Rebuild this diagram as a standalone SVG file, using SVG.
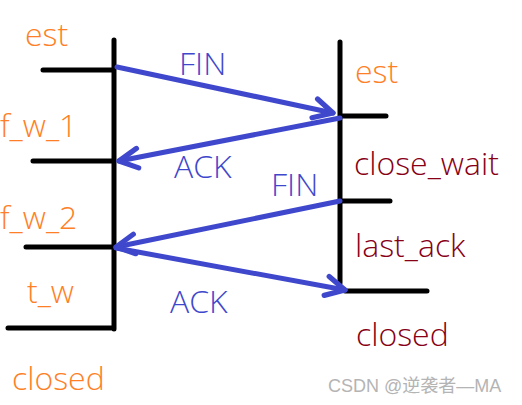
<svg xmlns="http://www.w3.org/2000/svg" width="522" height="405" viewBox="0 0 522 405">
<style>
.t{font-family:"Open Sans","Liberation Sans",sans-serif;font-size:32px;font-weight:300}
.o{fill:#FF7F27}
.r{fill:#880015}
.b{fill:#3F48CC}
.k{stroke:#000;stroke-width:5;stroke-linecap:round;fill:none}
.a{stroke:#3F48CC;stroke-width:5;stroke-linecap:round;fill:none;marker-end:url(#h)}
.w{font-family:"Liberation Sans","Noto Sans CJK SC",sans-serif;font-size:18px;fill:#b4b4b4}
</style>
<defs>
<marker id="h" markerUnits="userSpaceOnUse" markerWidth="30" markerHeight="30" refX="0" refY="0" viewBox="-16 -10 20 20" orient="auto" overflow="visible">
<path d="M-12,-7 L0,0 L-13,6" stroke="#3F48CC" stroke-width="3.5" stroke-linecap="round" stroke-linejoin="round" fill="none"/>
</marker>
</defs>
<rect width="522" height="405" fill="#fff"/>
<g id="client">
<path class="k" d="M114,40 V329 M43,70 H114 M33,161 H114 M26,247 H114 M8,328 H114"/>
</g>
<g id="server">
<path class="k" d="M340,42 V283 M340,116 H386 M340,201 H390 M345,291 H427"/>
</g>
<g id="client-states">
<text id="c-est" class="t o" x="25" y="46">est</text>
<text id="c-fw1" class="t o" x="0" y="137">f_w_1</text>
<text id="c-fw2" class="t o" x="0" y="229">f_w_2</text>
<text id="c-tw" class="t o" x="27" y="303">t_w</text>
<text id="c-closed" class="t o" x="12" y="390">closed</text>
</g>
<g id="server-states">
<text id="s-est" class="t o" x="355" y="83">est</text>
<text id="s-cw" class="t r" x="354" y="175">close_wait</text>
<text id="s-la" class="t r" x="355" y="257">last_ack</text>
<text id="s-closed" class="t r" x="356" y="346">closed</text>
</g>
<g id="connectors">
<line class="a" x1="117" y1="67" x2="333" y2="113"/>
<line class="a" x1="340" y1="118" x2="119" y2="161"/>
<line class="a" x1="340" y1="201" x2="116" y2="247"/>
<line class="a" x1="116" y1="248" x2="345" y2="290"/>
<text class="t b" x="179" y="75">FIN</text>
<text class="t b" x="174" y="178">ACK</text>
<text class="t b" x="271" y="196">FIN</text>
<text class="t b" x="170" y="313">ACK</text>
</g>
<text class="w" x="328" y="392">CSDN @逆袭者—MA</text>
</svg>
